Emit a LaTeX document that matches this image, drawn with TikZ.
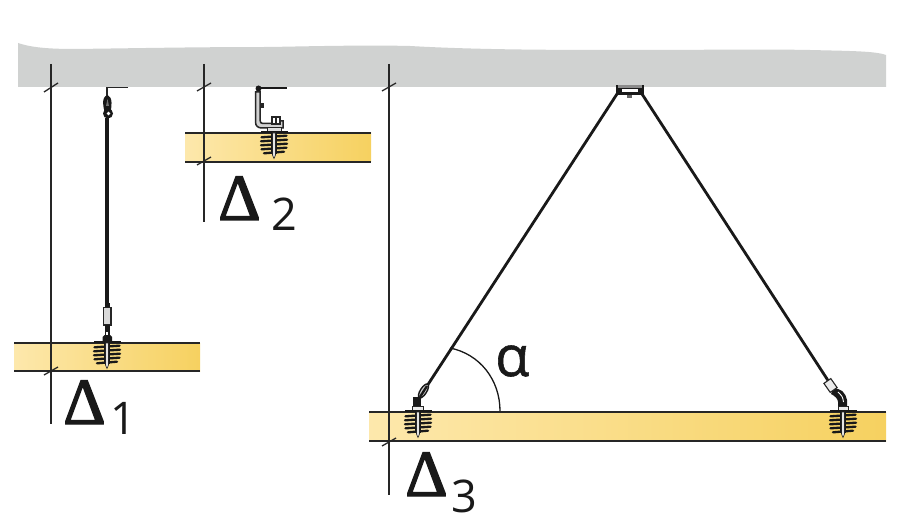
\documentclass[tikz,border=0pt]{standalone}
\usepackage{fontspec}
\setmainfont{Open Sans}
\newfontface\deltaface[FakeBold=2]{Liberation Serif}
\newfontface\alphaface[FakeBold=1.0]{Open Sans}
\tikzset{
  dimline/.style={draw=black!85,line width=1.3pt},
  boardedge/.style={draw=black!85,line width=1.6pt},
  cable/.style={draw=black!90,line width=2.8pt},
  bigdelta/.style={font=\deltaface\fontsize{66}{66}\selectfont,anchor=base west,inner sep=0pt,text=black!90},
  subdigit/.style={font=\fontsize{45}{45}\selectfont,anchor=base west,inner sep=0pt,text=black!90},
  screwpic/.pic={
    \fill[black!90] (-13.5,-2.4) rectangle (13.5,0.4);
    \foreach \yy/\hw in {3.5/12.5,7.5/13,11.5/13,15.5/12.5,19.5/10}{
      \draw[black!90,line width=2.3pt,line cap=round] (-\hw,\yy+0.8) -- (\hw,\yy-0.8);
    }
    \fill[black!90] (-3.4,0) rectangle (3.4,21);
    \fill[black!10,draw=black!85,line width=0.6pt] (-1.5,0) -- (1.5,0) -- (1.5,22) -- (0,25.5) -- (-1.5,22) -- cycle;
  }
}
\begin{document}
\begin{tikzpicture}[x=1pt,y=-1pt]
\useasboundingbox (0,0) rectangle (900,513);
\fill[white] (0,0) rectangle (900,513);
% ceiling
\fill[fill={rgb,255:red,208;green,210;blue,209}] (18,43)
  .. controls (30,47) and (45,49) .. (75,49)
  .. controls (150,48) and (200,47) .. (270,47)
  .. controls (320,46) and (370,45) .. (410,46)
  .. controls (480,50) and (560,50) .. (640,50)
  .. controls (700,50) and (760,49) .. (810,50)
  .. controls (850,51) and (875,51) .. (886,55)
  -- (886,87) -- (18,87) -- cycle;
% boards
\fill[left color={rgb,255:red,253;green,232;blue,172},right color={rgb,255:red,246;green,209;blue,96}] (14,343) rectangle (200,371);
\fill[left color={rgb,255:red,253;green,232;blue,172},right color={rgb,255:red,246;green,209;blue,96}] (185,133) rectangle (371,162);
\fill[left color={rgb,255:red,253;green,232;blue,172},right color={rgb,255:red,246;green,209;blue,96}] (369,412) rectangle (886,441);
\foreach \xa/\xb/\ya/\yb in {14/200/343/371,185/371/133/162,369/886/412/441}{
  \draw[boardedge] (\xa,\ya) -- (\xb,\ya);
  \draw[boardedge] (\xa,\yb) -- (\xb,\yb);
}
% dimension lines
\draw[dimline] (51,64) -- (51,424);
\draw[dimline] (44,92) -- (58,83);
\draw[dimline] (44,375) -- (58,367);
\draw[dimline] (204,64) -- (204,222);
\draw[dimline] (197,91) -- (211,83);
\draw[dimline] (197,165) -- (211,157);
\draw[dimline] (389,64) -- (389,495);
\draw[dimline] (382,91) -- (396,83);
\draw[dimline] (382,446) -- (396,438);
% hanger 1
\draw[black!85,line width=1.4pt] (128,87.5) -- (107,87.5) -- (107,96);
\fill[black!90] (107.5,95) .. controls (101,97) and (103,108) .. (105,112) -- (110,112) .. controls (112,108) and (113,97) .. (107.5,95) -- cycle;
\fill[black!90] (108,113.5) circle (5);
\fill[white] (108.5,113.5) circle (1.8);
\fill[black!55] (107.5,99) -- (109,106) -- (106,106) -- cycle;
\draw[cable,line width=3.2pt] (107,118) -- (107,306);
\fill[black!90] (104.5,303) rectangle (109.5,308);
\fill[black!15,draw=black!85,line width=1.5pt] (103.5,307.5) rectangle (111,325);
\fill[black!90] (104.5,325) rectangle (110,331);
\fill[black!90] (105,331) rectangle (109.5,337);
\fill[black!90] (102.5,337) -- (104.5,335) -- (110,335) -- (112,337) -- (112,343) -- (102.5,343) -- cycle;
\fill[white] (106.2,331.5) rectangle (108.2,335);
\pic at (107,343) {screwpic};
% bracket 2
\draw[black!90,line width=2.8pt] (258,88) -- (287,88);
\fill[black!90] (258.5,88.5) circle (3);
\draw[black!85,line width=1.5pt,fill=black!18] (255.5,92) -- (260,92) -- (260,120) .. controls (260,122.5) and (261,123.5) .. (263,123.5) -- (278,123.5) -- (278,121) -- (283,121) -- (283,128) -- (262,128) .. controls (258,128) and (255.5,126) .. (255.5,122) -- cycle;
\fill[black!85] (260,103) rectangle (263.5,108.5);
\draw[black!85,line width=1.1pt,fill=white] (272,117) rectangle (280,124);
\draw[black!85,line width=1.1pt] (276,117) -- (276,124);
\fill[black!12,draw=black!85,line width=1pt] (267,128) rectangle (281,131.5);
\pic at (274,133) {screwpic};
% top bracket
\fill[black!90] (616,85) rectangle (644,95);
\fill[black!45] (618,85.5) rectangle (642,88);
\fill[white] (622,89) rectangle (638,92.5);
\fill[black!60] (627,95) rectangle (632,98);
% braces
\draw[cable] (617,94) -- (427,386);
\draw[cable] (642,94) -- (829,382);
% left fixing
\begin{scope}[shift={(423.5,391)},rotate=-32]
\draw[black!90,line width=1.4pt,fill=black!20] (0,0) ellipse (3.2 and 8);
\end{scope}
\draw[black!90,line width=2.4pt] (427,386) -- (420,397);
\fill[black!90] (413,397) rectangle (421,406);
\fill[black!8,draw=black!85,line width=0.8pt] (412,406) rectangle (423,411);
\pic at (418,412) {screwpic};
% right fixing
\fill[black!90] (833,389) .. controls (840,387) and (846,393) .. (847,400) -- (847,406) -- (838,406) -- (838,402) .. controls (838,399) and (835,396) .. (831,394) -- cycle;
\draw[white,line width=0.9pt] (838,392) .. controls (841,394) and (843,397) .. (843.5,402);
\begin{scope}[shift={(830.5,385.5)},rotate=35]
\fill[black!8,draw=black!85,line width=1.1pt] (-4.2,-5.5) rectangle (4.2,5.5);
\end{scope}
\fill[black!8,draw=black!85,line width=0.8pt] (838,406) rectangle (848,411);
\pic at (843,412) {screwpic};
% angle arc
\draw[black!90,line width=1.3pt] (450,348) .. controls (480,354) and (500,380) .. (500,411);
% labels
\node[bigdelta] (d1) at (63,424) {Δ};
\node[subdigit] (n1) at (110,434) {1};
\node[bigdelta] (d2) at (218,220) {Δ};
\node[subdigit] (n2) at (271,231) {2};
\node[bigdelta] (d3) at (405,496) {Δ};
\node[subdigit] (n3) at (451,512) {3};
\node[font=\alphaface\fontsize{56}{56}\selectfont,anchor=base west,inner sep=0pt,text=black!90] (alpha) at (495,376) {α};
\end{tikzpicture}
\end{document}
